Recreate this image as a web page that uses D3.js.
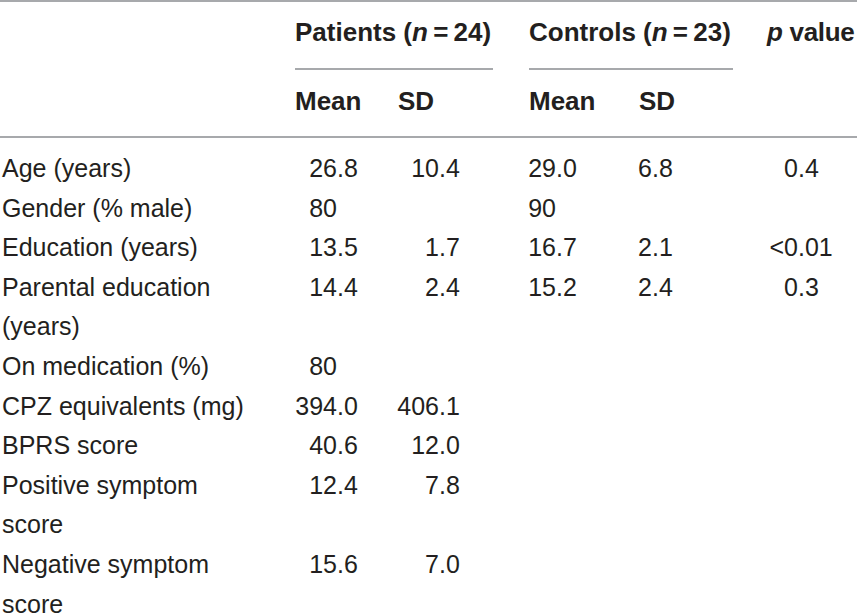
<!DOCTYPE html>
<html>
<head>
<meta charset="utf-8">
<script src="https://cdn.jsdelivr.net/npm/d3@7"></script>
<style>
  html, body { margin: 0; padding: 0; background: #fff; }
  svg { display: block; }
  text { font-family: "Liberation Sans", Arial, Helvetica, sans-serif; fill: #231f20; }
</style>
</head>
<body>
<svg id="chart" width="857" height="616"></svg>
<script>
// ---- data ----
const groups = [
  { name: "Patients", n: "24" },
  { name: "Controls", n: "23" }
];
const subHeaders = ["Mean", "SD"];
const pHeader = "value";
const rowLabels = [
  ["Age (years)"],
  ["Gender (% male)"],
  ["Education (years)"],
  ["Parental education", "(years)"],
  ["On medication (%)"],
  ["CPZ equivalents (mg)"],
  ["BPRS score"],
  ["Positive symptom", "score"],
  ["Negative symptom", "score"]
];
const patientsMean = ["26.8", "80", "13.5", "14.4", "80", "394.0", "40.6", "12.4", "15.6"];
const patientsSD   = ["10.4", "", "1.7", "2.4", "", "406.1", "12.0", "7.8", "7.0"];
const controlsMean = ["29.0", "90", "16.7", "15.2", "", "", "", "", ""];
const controlsSD   = ["6.8", "", "2.1", "2.4", "", "", "", "", ""];
const pValues      = ["0.4", "", "<0.01", "0.3", "", "", "", "", ""];

// ---- layout ----
const W = 857, H = 616;
const svg = d3.select("#chart");
const fs = 25, fsb = 26;
const lineColor = "#a7a9ac";

// row line index -> baseline
const lineY = d3.scaleLinear().domain([0, 1]).range([177, 216.6]);

// decimal-anchor x for each value column
const colKeys = ["pm", "psd", "cm", "csd", "p"];
const colX = d3.scaleOrdinal().domain(colKeys).range([337, 439, 556, 652, 798]);
const colData = { pm: patientsMean, psd: patientsSD, cm: controlsMean, csd: controlsSD, p: pValues };

// header positions
const groupX = d3.scaleOrdinal().domain(groups.map(g => g.name)).range([295, 529]);
const groupEnd = d3.scaleOrdinal().domain(groups.map(g => g.name)).range([493, 733]);
const subX = { Patients: [295, 398], Controls: [529, 639] };

// rules
svg.append("line").attr("x1", 0).attr("x2", W).attr("y1", 1).attr("y2", 1)
  .attr("stroke", lineColor).attr("stroke-width", 2);
svg.append("line").attr("x1", 0).attr("x2", W).attr("y1", 137).attr("y2", 137)
  .attr("stroke", lineColor).attr("stroke-width", 2);
svg.selectAll("line.under").data(groups).join("line").attr("class", "under")
  .attr("x1", d => groupX(d.name)).attr("x2", d => groupEnd(d.name))
  .attr("y1", 69).attr("y2", 69)
  .attr("stroke", lineColor).attr("stroke-width", 2);

// group headers
const gh = svg.selectAll("text.group").data(groups).join("text").attr("class", "group")
  .attr("x", d => groupX(d.name)).attr("y", 41)
  .attr("font-size", fsb).attr("font-weight", "bold");
gh.append("tspan").text(d => d.name + " (");
gh.append("tspan").attr("font-style", "italic").text("n");
gh.append("tspan").text(d => "\u2009=\u2009" + d.n + ")");

const ph = svg.append("text").attr("x", 767).attr("y", 41)
  .attr("font-size", fsb).attr("font-weight", "bold")
  .attr("letter-spacing", -0.3);
ph.append("tspan").attr("font-style", "italic").text("p");
ph.append("tspan").text(" " + pHeader);

// sub headers
groups.forEach(g => {
  svg.selectAll("text.sub-" + g.name).data(subHeaders).join("text")
    .attr("class", "sub-" + g.name)
    .attr("x", (d, i) => subX[g.name][i]).attr("y", 110)
    .attr("font-size", fsb).attr("font-weight", "bold")
    .text(d => d);
});

// compute line offsets per row
let acc = 0;
const rows = rowLabels.map((lab, i) => {
  const r = { i, lines: lab, start: acc };
  acc += lab.length;
  return r;
});

// labels
const lg = svg.selectAll("g.row").data(rows).join("g").attr("class", "row");
lg.selectAll("text.label").data(d => d.lines.map((t, k) => ({ t, line: d.start + k })))
  .join("text").attr("class", "label")
  .attr("x", 2).attr("y", d => lineY(d.line))
  .attr("font-size", fs).text(d => d.t);

// values, decimal aligned
colKeys.forEach(k => {
  const vals = rows.map(r => ({ v: colData[k][r.i], line: r.start })).filter(d => d.v !== "");
  const parts = vals.map(d => {
    const idx = d.v.indexOf(".");
    return { ...d, int: idx < 0 ? d.v : d.v.slice(0, idx), frac: idx < 0 ? "" : d.v.slice(idx) };
  });
  svg.selectAll("text.int-" + k).data(parts).join("text").attr("class", "int-" + k)
    .attr("x", colX(k)).attr("y", d => lineY(d.line))
    .attr("text-anchor", "end").attr("font-size", fs).text(d => d.int);
  svg.selectAll("text.frac-" + k).data(parts.filter(d => d.frac)).join("text").attr("class", "frac-" + k)
    .attr("x", colX(k)).attr("y", d => lineY(d.line))
    .attr("text-anchor", "start").attr("font-size", fs).text(d => d.frac);
});
</script>
</body>
</html>
